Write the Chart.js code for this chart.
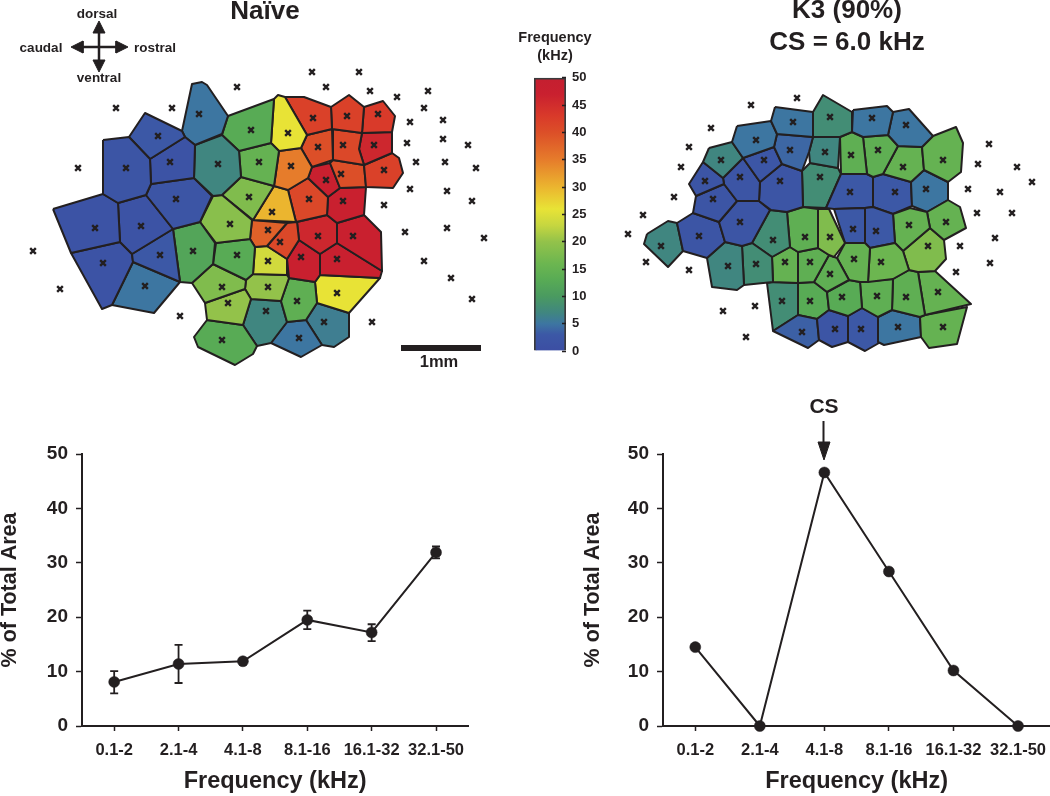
<!DOCTYPE html>
<html>
<head>
<meta charset="utf-8">
<title>Tonotopic maps</title>
<script src="https://cdn.jsdelivr.net/npm/chart.js@4"></script>
<style>
  html, body { margin: 0; padding: 0; background: #fff; }
  #page { position: relative; width: 1050px; height: 796px; overflow: hidden; font-family: "Liberation Sans", Arial, sans-serif; font-weight: bold; color: #231f20; }
  #page canvas { position: absolute; }
  .lbl { position: absolute; transform: translate(-50%, -50%); white-space: nowrap; line-height: 1; }
</style>
</head>
<body>
<div id="page">
  <canvas id="mapChart" style="left:0;top:0" width="1050" height="796"></canvas>
  <canvas id="barChart" style="left:510px;top:60px" width="100" height="310"></canvas>
  <canvas id="naiveChart" style="left:0;top:430px" width="474" height="366"></canvas>
  <canvas id="k3Chart" style="left:570px;top:380px" width="486" height="416"></canvas>

  <div class="lbl" style="left:265px;top:10px;font-size:26px">Naïve</div>
  <div class="lbl" style="left:847px;top:9px;font-size:26px">K3 (90%)</div>
  <div class="lbl" style="left:847px;top:41px;font-size:26px">CS = 6.0 kHz</div>
  <div class="lbl" style="left:97px;top:14px;font-size:13.5px">dorsal</div>
  <div class="lbl" style="left:41px;top:48px;font-size:13.5px">caudal</div>
  <div class="lbl" style="left:155px;top:48px;font-size:13.5px">rostral</div>
  <div class="lbl" style="left:99px;top:78px;font-size:13.5px">ventral</div>
  <div class="lbl" style="left:555px;top:37px;font-size:14.5px">Frequency</div>
  <div class="lbl" style="left:555px;top:55px;font-size:14.5px">(kHz)</div>
  <div class="lbl" style="left:439px;top:361px;font-size:16.5px">1mm</div>
  <div class="lbl" style="left:824px;top:405px;font-size:21px">CS</div>
</div>

<script>
// Bottom charts
const freqBands = ['0.1-2', '2.1-4', '4.1-8', '8.1-16', '16.1-32', '32.1-50'];
const naiveArea = [8.1, 11.4, 11.9, 19.5, 17.2, 31.9];
const naiveLow = [6.0, 7.9, 11.9, 17.8, 15.6, 30.8];
const naiveHigh = [10.1, 14.9, 11.9, 21.2, 18.7, 33.0];
const k3Area = [14.5, 0, 46.6, 28.4, 10.2, 0];

// Colour scale (kHz -> colour)
const scaleFreqs = [0, 3, 5, 7, 10, 13, 16, 20, 23, 26, 30, 35, 40, 43, 47, 50];
const scaleCols = ['#3c4ea3', '#3c58a6', '#3d76a1', '#408680', '#4a9a60', '#58ab55', '#6cb650', '#93c24a', '#c6d640',
  '#e8e336', '#ebb52f', '#e67c2b', '#dc4f28', '#d93a2a', '#c9202f', '#c41f30'];

// Naive map: cell outlines, best frequency of each cell, penetration marks
const naiveCells = [
  [[103,140],[129,137],[150,159],[151,184],[146,195],[118,203],[103,194]],
  [[129,137],[145,113],[182,131],[185,137],[150,159]],
  [[150,159],[185,137],[195,145],[194,178],[151,184]],
  [[182,131],[192,84],[202,82],[207,85],[228,116],[222,134],[195,145],[185,137]],
  [[195,145],[222,135],[239,151],[241,177],[222,195],[213,196],[194,178]],
  [[146,195],[151,184],[194,178],[212,196],[200,222],[173,229]],
  [[53,209],[103,194],[118,203],[120,242],[71,253]],
  [[118,203],[146,195],[173,229],[132,254],[120,242]],
  [[132,254],[173,229],[180,282],[133,262]],
  [[71,253],[120,242],[132,254],[133,262],[112,305],[102,309]],
  [[133,262],[180,282],[154,313],[112,305]],
  [[173,229],[200,222],[215,243],[213,264],[192,283],[180,282]],
  [[200,222],[213,196],[222,195],[252,220],[250,239],[216,243]],
  [[216,243],[250,239],[255,247],[253,274],[246,280],[213,264]],
  [[192,283],[213,264],[246,280],[245,289],[205,303]],
  [[205,303],[245,289],[251,299],[243,325],[207,320]],
  [[207,320],[243,325],[257,346],[253,354],[235,365],[198,347],[194,337]],
  [[228,116],[274,99],[271,143],[239,151],[222,135]],
  [[239,151],[271,143],[279,151],[274,186],[241,177]],
  [[241,177],[274,186],[253,220],[222,195]],
  [[274,99],[278,95],[285,97],[307,135],[301,148],[279,151],[271,143]],
  [[279,151],[301,148],[312,167],[308,178],[288,190],[274,186]],
  [[274,186],[288,190],[296,222],[253,220]],
  [[285,97],[304,97],[331,107],[332,129],[307,135]],
  [[331,107],[349,95],[364,107],[362,133],[332,129]],
  [[364,107],[383,101],[395,116],[392,132],[362,133]],
  [[307,135],[332,129],[333,160],[312,167],[301,148]],
  [[332,129],[362,133],[359,149],[364,165],[333,160]],
  [[362,133],[392,132],[392,153],[364,165],[359,149]],
  [[364,165],[392,153],[399,158],[403,173],[393,188],[366,187]],
  [[330,163],[333,160],[364,165],[366,187],[340,188]],
  [[312,167],[330,163],[340,188],[328,197],[308,178]],
  [[288,190],[308,178],[328,197],[327,215],[296,222]],
  [[328,197],[340,188],[366,187],[364,215],[337,223],[327,215]],
  [[252,220],[287,223],[267,246],[255,247],[250,239]],
  [[287,223],[297,222],[299,240],[287,259],[267,246]],
  [[297,222],[327,215],[337,223],[337,243],[320,254],[299,240]],
  [[337,223],[364,215],[381,232],[382,271],[337,243]],
  [[299,240],[320,254],[320,275],[315,282],[289,278],[287,259]],
  [[320,254],[337,243],[382,271],[380,278],[320,275]],
  [[255,247],[267,246],[287,259],[287,275],[253,274]],
  [[253,274],[287,275],[289,278],[281,301],[251,299],[245,289],[246,280]],
  [[289,278],[315,282],[317,303],[306,320],[287,322],[281,301]],
  [[320,275],[380,278],[349,313],[317,303],[315,282]],
  [[251,299],[281,301],[287,322],[271,343],[257,346],[243,325]],
  [[287,322],[306,320],[322,345],[301,357],[271,343]],
  [[317,303],[349,313],[349,337],[334,347],[322,345],[306,320]]
];
const naiveFreqs = [2, 3, 1.5, 5, 7, 2, 1.5, 1.5, 3, 1.5, 5, 12, 19, 13, 18, 20, 13, 13, 15, 18, 26, 35, 30,
  42, 42, 43, 40, 41, 46, 42, 40, 47, 41, 47, 38, 41, 46, 47, 47, 47, 24, 20, 14, 26, 7, 5, 6];
const naiveMarks = [
  [126,168],[158,136],[170,162],[199,114],[218,164],[176,199],[95,228],[141,226],[160,255],[103,263],[145,286],
  [193,251],[230,224],[237,255],[222,287],[228,303],[222,340],[251,130],[259,162],[249,197],[288,133],[291,166],
  [272,212],[313,118],[347,116],[378,114],[318,147],[343,145],[374,145],[384,170],[341,174],[326,180],[309,199],
  [343,201],[268,230],[280,242],[318,236],[353,236],[301,257],[337,259],[268,261],[268,287],[297,301],[337,293],
  [266,311],[299,338],[324,322],
  [116,108],[172,108],[237,87],[78,168],[33,251],[60,289],[180,316],[312,72],[359,72],[326,87],[370,91],[397,97],
  [428,91],[424,108],[410,122],[443,120],[407,143],[443,139],[468,145],[416,162],[445,162],[476,168],[410,189],
  [447,191],[472,201],[384,205],[405,232],[447,228],[484,238],[424,261],[451,278],[472,299],[372,322]
];

// K3 map
const k3Cells = [
  [[775,107],[813,112],[813,137],[777,134],[771,121]],
  [[737,126],[771,121],[777,134],[774,147],[743,158],[732,142]],
  [[777,134],[813,137],[809,152],[802,171],[782,164],[774,147]],
  [[709,148],[732,142],[743,158],[723,178],[703,162]],
  [[743,158],[774,147],[782,164],[760,182]],
  [[703,162],[723,178],[724,184],[696,196],[689,184]],
  [[723,178],[743,158],[760,182],[759,201],[737,201],[724,184]],
  [[760,182],[782,164],[802,171],[803,207],[787,212],[771,210],[759,201]],
  [[696,196],[724,184],[737,201],[719,222],[693,213]],
  [[719,222],[737,201],[759,201],[770,210],[752,243],[742,246],[725,242]],
  [[677,223],[693,213],[719,222],[725,242],[707,258],[683,251]],
  [[647,234],[668,221],[677,223],[683,251],[668,267],[644,244]],
  [[707,258],[725,242],[742,246],[744,285],[737,290],[712,287]],
  [[742,246],[752,243],[772,257],[773,282],[744,285]],
  [[752,243],[770,210],[787,212],[790,247],[772,257]],
  [[787,212],[803,207],[818,209],[818,248],[798,252],[790,247]],
  [[818,209],[829,209],[845,243],[834,257],[829,255],[818,248]],
  [[772,257],[790,247],[798,252],[798,283],[773,282]],
  [[798,252],[818,248],[829,255],[814,282],[798,283]],
  [[829,255],[837,258],[849,280],[827,292],[814,282]],
  [[845,243],[865,243],[870,248],[868,282],[860,282],[849,280],[837,258]],
  [[870,248],[895,243],[903,251],[909,270],[893,279],[868,282]],
  [[834,209],[865,208],[865,243],[845,243]],
  [[865,208],[873,207],[893,214],[895,243],[870,248],[865,243]],
  [[893,214],[910,208],[927,212],[930,228],[903,251],[895,243]],
  [[927,212],[948,200],[960,207],[966,228],[944,240],[930,228]],
  [[903,251],[930,228],[944,240],[946,259],[935,271],[918,272],[909,270]],
  [[827,292],[849,280],[860,282],[862,308],[848,316],[829,310]],
  [[860,282],[893,279],[892,310],[878,317],[862,308]],
  [[893,279],[909,270],[918,272],[925,315],[920,317],[892,310]],
  [[918,272],[935,271],[971,304],[925,315]],
  [[925,315],[967,307],[957,344],[929,348],[921,337],[920,317]],
  [[892,310],[920,317],[921,337],[884,345],[878,342],[878,317]],
  [[848,316],[862,308],[878,317],[879,343],[865,351],[848,342]],
  [[817,319],[829,310],[848,316],[848,342],[832,347],[819,340]],
  [[773,331],[798,315],[817,319],[819,340],[808,348]],
  [[767,283],[773,282],[798,283],[798,315],[773,331]],
  [[798,283],[814,282],[827,292],[829,310],[817,319],[798,315]],
  [[813,112],[823,95],[852,112],[852,132],[840,137],[813,137]],
  [[853,110],[887,106],[893,112],[888,135],[863,137],[852,132]],
  [[893,112],[909,109],[933,136],[922,147],[898,146],[888,135]],
  [[922,147],[933,136],[956,127],[963,143],[961,172],[948,182],[924,170]],
  [[813,137],[840,137],[838,168],[810,163],[809,152]],
  [[840,137],[852,132],[863,137],[867,174],[841,174]],
  [[863,137],[888,135],[898,146],[883,174],[873,177],[867,174]],
  [[898,146],[922,147],[924,170],[911,182],[883,174]],
  [[924,170],[948,182],[948,200],[927,212],[912,206],[911,182]],
  [[873,177],[883,174],[911,182],[912,206],[893,214],[873,207]],
  [[841,174],[867,174],[873,177],[873,207],[865,208],[834,209],[826,208]],
  [[802,171],[810,163],[838,168],[841,174],[826,208],[803,207]]
];
const k3Freqs = [5, 5, 4, 7, 2.5, 2, 2, 2, 2, 2, 2, 7, 7, 8, 8, 14, 18, 15, 14, 14, 15, 16, 3, 3, 15, 15, 18,
  13, 14, 14, 15, 15, 5, 3, 2, 3.5, 8, 13, 8, 5, 5, 15, 7, 14, 14, 15, 5, 3, 3, 8];
const k3Marks = [
  [793,122],[756,140],[790,150],[721,160],[764,160],[705,181],[740,177],[780,181],[713,199],[740,222],[699,236],
  [661,246],[728,266],[756,264],[773,240],[805,237],[830,237],[785,262],[810,262],[830,274],[854,259],[881,262],
  [853,229],[876,231],[909,225],[946,222],[928,246],[842,297],[877,296],[906,297],[938,292],[943,327],[898,327],
  [861,329],[835,329],[802,332],[782,301],[810,301],[830,117],[872,118],[906,125],[943,160],[825,152],[851,155],
  [878,150],[903,167],[926,189],[895,192],[850,192],[820,177],
  [751,105],[797,98],[711,128],[689,147],[681,167],[674,197],[643,215],[628,234],[646,262],[689,270],[723,311],
  [755,306],[746,337],[989,144],[978,164],[1017,167],[1032,182],[968,189],[1000,192],[977,213],[1012,213],[960,246],
  [995,238],[990,263],[956,272]
];

// Compass, scale bar and CS arrow
const compassLines = [[[76,47],[122,47]], [[99,28],[99,66]]];
const compassHeads = [
  [[71,47],[83,41],[83,53]], [[128,47],[116,41],[116,53]],
  [[99,21],[93,33],[105,33]], [[99,72],[93,60],[105,60]]
];
const scaleBar = [[401,348],[481,348]];
const csShaft = [[823.5,421],[823.5,445]];
const csHead = [[824,460],[818,442],[830,442]];

const ink = '#231f20';
Chart.defaults.font.family = '"Liberation Sans", Arial, sans-serif';
Chart.defaults.font.weight = 'bold';
Chart.defaults.color = ink;
Chart.defaults.animation = false;

function hexToRgb(h) {
  return [1, 3, 5].map(i => parseInt(h.slice(i, i + 2), 16));
}

function freqColor(f) {
  let i = 0;
  while (i < scaleFreqs.length - 2 && f > scaleFreqs[i + 1]) i++;
  const t = (f - scaleFreqs[i]) / (scaleFreqs[i + 1] - scaleFreqs[i]);
  const a = hexToRgb(scaleCols[i]), b = hexToRgb(scaleCols[i + 1]);
  const c = a.map((v, k) => Math.round(v + (b[k] - v) * t));
  return `rgb(${c[0]},${c[1]},${c[2]})`;
}

function toPoints(list) {
  return list.map(p => ({ x: p[0], y: p[1] }));
}

function polygon(verts, fillCol, lineWidth) {
  return {
    data: toPoints(verts.concat([verts[0]])),
    showLine: true,
    fill: 'shape',
    backgroundColor: fillCol,
    borderColor: ink,
    borderWidth: lineWidth,
    borderJoinStyle: 'round',
    pointRadius: 0,
    tension: 0,
    order: 2
  };
}

function stroke(verts, lineWidth) {
  return { data: toPoints(verts), showLine: true, fill: false, borderColor: ink, borderWidth: lineWidth, pointRadius: 0, order: 1 };
}

const mapSets = [];
naiveCells.forEach((c, i) => mapSets.push(polygon(c, freqColor(naiveFreqs[i]), 2)));
k3Cells.forEach((c, i) => mapSets.push(polygon(c, freqColor(k3Freqs[i]), 2)));
compassLines.forEach(l => mapSets.push(stroke(l, 2.5)));
compassHeads.concat([csHead]).forEach(h => mapSets.push(polygon(h, ink, 1)));
mapSets.push(stroke(scaleBar, 6));
mapSets.push(stroke(csShaft, 2));
mapSets.push({
  data: toPoints(naiveMarks.concat(k3Marks)),
  showLine: false,
  pointStyle: 'crossRot',
  pointRadius: 4,
  borderColor: ink,
  borderWidth: 2.4,
  order: 0
});

new Chart(document.getElementById('mapChart'), {
  type: 'scatter',
  data: { datasets: mapSets },
  options: {
    responsive: false,
    plugins: { legend: { display: false }, tooltip: { enabled: false } },
    layout: { padding: 0, autoPadding: false },
    scales: {
      x: { type: 'linear', display: false, min: 0, max: 1050 },
      y: { type: 'linear', display: false, min: 0, max: 796, reverse: true }
    }
  }
});

// Colour bar
new Chart(document.getElementById('barChart'), {
  type: 'bar',
  data: {
    labels: ['kHz'],
    datasets: [{
      data: [50],
      barPercentage: 1,
      categoryPercentage: 1,
      borderWidth: 2,
      borderColor: '#3a3a3c',
      backgroundColor: ctx => {
        const area = ctx.chart.chartArea;
        if (!area) return scaleCols[0];
        const g = ctx.chart.ctx.createLinearGradient(0, area.bottom, 0, area.top);
        scaleFreqs.forEach((f, i) => g.addColorStop(f / 50, scaleCols[i]));
        return g;
      }
    }]
  },
  options: {
    responsive: false,
    plugins: { legend: { display: false }, tooltip: { enabled: false } },
    layout: { padding: { left: 24, top: 15, bottom: 19 }, autoPadding: false },
    scales: {
      x: { display: false },
      y: {
        position: 'right',
        min: 0,
        max: 50,
        z: 1,
        afterFit: s => { s.width = 44; },
        border: { display: false },
        grid: { z: 1, drawOnChartArea: false, tickLength: -4, tickColor: ink, tickWidth: 1.5 },
        ticks: { stepSize: 5, padding: 10, font: { size: 13 } }
      }
    }
  }
});

// Error bars for the naive group, from the y scale
const errorBars = {
  id: 'errorBars',
  beforeDatasetsDraw(chart, args, opts) {
    if (!opts.low) return;
    const { ctx, scales: { x, y } } = chart;
    ctx.save();
    ctx.strokeStyle = ink;
    ctx.lineWidth = 1.8;
    opts.low.forEach((lo, i) => {
      const px = x.getPixelForValue(i);
      const a = y.getPixelForValue(lo), b = y.getPixelForValue(opts.high[i]);
      ctx.beginPath();
      ctx.moveTo(px, a); ctx.lineTo(px, b);
      ctx.moveTo(px - 4, a); ctx.lineTo(px + 4, a);
      ctx.moveTo(px - 4, b); ctx.lineTo(px + 4, b);
      ctx.stroke();
    });
    ctx.restore();
  }
};

function lineChart(id, values, yWidth, titlePad, padTop, padRight, bars) {
  return new Chart(document.getElementById(id), {
    type: 'line',
    data: {
      labels: freqBands,
      datasets: [{
        data: values,
        borderColor: ink,
        borderWidth: 2,
        backgroundColor: ink,
        pointBackgroundColor: ink,
        pointBorderColor: ink,
        pointRadius: 5.5,
        pointBorderWidth: 0.5,
        tension: 0,
        clip: false
      }]
    },
    plugins: [errorBars],
    options: {
      responsive: false,
      layout: { padding: { top: padTop, right: padRight }, autoPadding: false },
      plugins: { legend: { display: false }, tooltip: { enabled: false }, errorBars: bars },
      scales: {
        x: {
          offset: true,
          afterFit: s => { s.height = 70; },
          border: { color: ink, width: 2 },
          grid: { drawOnChartArea: false, offset: false, tickLength: 5, tickColor: ink, tickWidth: 1.5 },
          ticks: { autoSkip: false, maxRotation: 0, padding: 10, font: { size: 16.5 } },
          title: { display: true, text: 'Frequency (kHz)', font: { size: 23.5 }, padding: { top: 0, bottom: 0 } }
        },
        y: {
          min: 0,
          max: 50,
          afterFit: s => { s.width = yWidth; },
          border: { color: ink, width: 2 },
          grid: { drawOnChartArea: false, tickLength: 6, tickColor: ink, tickWidth: 1.5 },
          ticks: { stepSize: 10, padding: 8, font: { size: 19 } },
          title: { display: true, text: '% of Total Area', font: { size: 21.5 }, padding: { top: titlePad, bottom: 0 } }
        }
      }
    }
  });
}

lineChart('naiveChart', naiveArea, 82, -3, 24, 0, { low: naiveLow, high: naiveHigh });
lineChart('k3Chart', k3Area, 93, 10, 74, 0, {});
</script>
</body>
</html>
